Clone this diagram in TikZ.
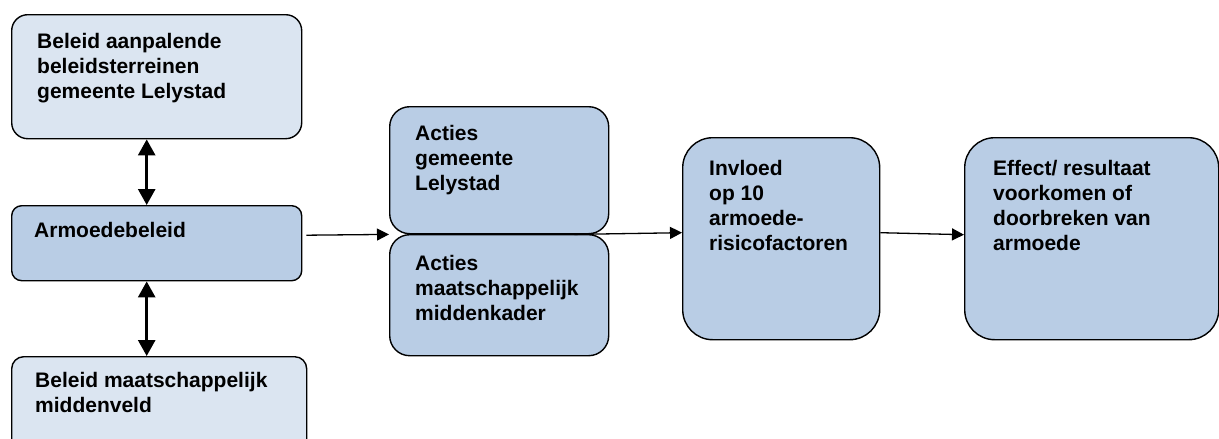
\documentclass[tikz,border=0pt]{standalone}
\usepackage{fontspec}
\setmainfont{Liberation Sans}
\usepackage{xcolor}
\usetikzlibrary{arrows.meta}

\definecolor{lichtblauw}{HTML}{DBE5F1}
\definecolor{middenblauw}{HTML}{B9CDE5}

\tikzset{
  blok/.style = {draw, line width=1.4pt, anchor=north west, inner sep=0pt},
  tekst/.style = {anchor=north west, align=left, inner sep=0pt,
                  font=\fontsize{21}{25}\selectfont\bfseries},
  pijl/.style = {-{Triangle[length=12pt,width=12pt]}, line width=1.3pt},
  dubbelpijl/.style = {{Triangle[length=16pt,width=17pt]}-{Triangle[length=16pt,width=17pt]}, line width=2.8pt}
}

\begin{document}
\begin{tikzpicture}[x=1pt, y=-1pt]
                \useasboundingbox (0,0) rectangle (1219,439);

                % Linker kolom: beleid
                \node[blok, fill=lichtblauw, rounded corners=16pt, minimum width=290pt, minimum height=124pt] (aanpalend) at (11,14) {};
                \node[tekst] (aanpalendtxt) at ([shift={(26pt,-19pt)}]aanpalend.north west) {Beleid aanpalende\\beleidsterreinen\\gemeente Lelystad};

                \node[blok, fill=middenblauw, rounded corners=10pt, minimum width=290pt, minimum height=75pt] (armoede) at (11,205) {};
                \node[tekst] (armoedetxt) at ([shift={(23pt,-17pt)}]armoede.north west) {Armoedebeleid};

                \node[blok, fill=lichtblauw, rounded corners=12pt, minimum width=295pt, minimum height=110pt] (middenveld) at (11,356) {};
                \node[tekst] (middenveldtxt) at ([shift={(24pt,-16pt)}]middenveld.north west) {Beleid maatschappelijk\\middenveld};

                % Dubbele pijlen tussen de beleidsblokken
                \draw[dubbelpijl] ([xshift=-10pt]aanpalend.south) -- ([xshift=-10pt]armoede.north);
                \draw[dubbelpijl] ([xshift=-10pt]armoede.south) -- ([xshift=-12.5pt]middenveld.north);

                % Acties
                \node[blok, fill=middenblauw, rounded corners=20pt, minimum width=219pt, minimum height=127pt] (actiesgem) at (389,106) {};
                \node[tekst] (actiesgemtxt) at ([shift={(26pt,-19pt)}]actiesgem.north west) {Acties\\gemeente\\Lelystad};

                \node[blok, fill=middenblauw, rounded corners=20pt, minimum width=219pt, minimum height=121pt] (actiesmk) at (389,234) {};
                \node[tekst] (actiesmktxt) at ([shift={(26pt,-21pt)}]actiesmk.north west) {Acties\\maatschappelijk\\middenkader};

                % Invloed en effect
                \node[blok, fill=middenblauw, rounded corners=30pt, minimum width=197pt, minimum height=202pt] (invloed) at (682,137) {};
                \node[tekst] (invloedtxt) at ([shift={(27pt,-23pt)}]invloed.north west) {Invloed\\op 10\\armoede-\\risicofactoren};

                \node[blok, fill=middenblauw, rounded corners=30pt, minimum width=254pt, minimum height=202pt] (effect) at (964,137) {};
                \node[tekst] (effecttxt) at ([shift={(29pt,-23pt)}]effect.north west) {Effect/ resultaat\\voorkomen of\\doorbreken van\\armoede};

                % Pijlen van links naar rechts
                \draw[pijl] ([xshift=4pt,yshift=8pt]armoede.east) -- (actiesgem.south west);
                \draw[pijl] ([xshift=-35pt]actiesgem.south east) -- ([yshift=6pt]invloed.west);
                \draw[pijl] ([yshift=6pt]invloed.east) -- ([yshift=4pt]effect.west);

            \end{tikzpicture}
\end{document}
